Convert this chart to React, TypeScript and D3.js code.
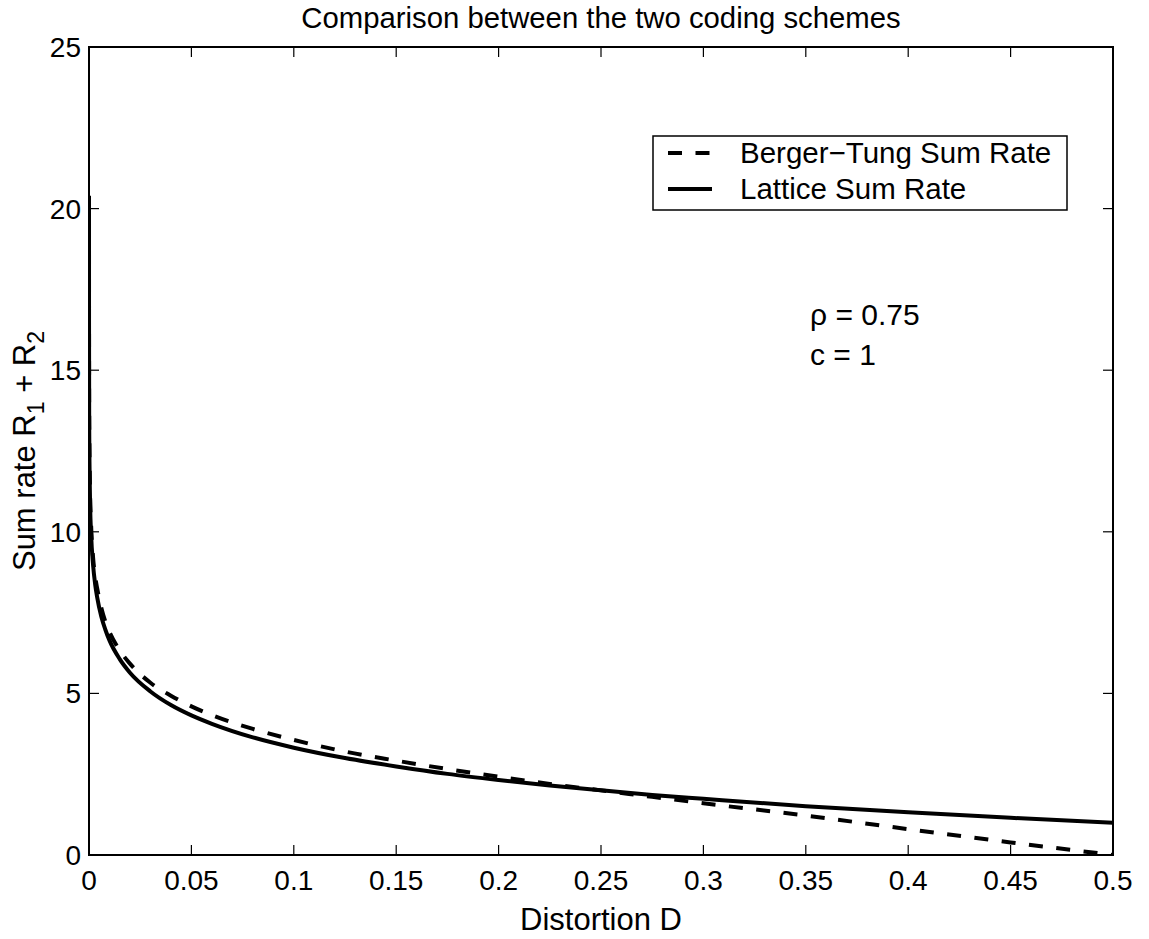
import React from 'react';
import * as d3 from 'd3';

const distortion = [
  0.0000008, 0.00001, 0.0001, 0.0005, 0.001, 0.002, 0.003, 0.004, 0.006, 0.008,
  0.01, 0.015, 0.02, 0.03, 0.04, 0.05, 0.06, 0.08, 0.1, 0.125,
  0.15, 0.175, 0.2, 0.225, 0.25, 0.275, 0.3, 0.35, 0.4, 0.45, 0.5,
];

// Berger–Tung sum rate (dashed)
const bergerTung = [
  20.4, 16.9, 13.6, 11.3, 10.25, 9.2, 8.62, 8.25, 7.65, 7.22,
  6.9, 6.33, 5.92, 5.33, 4.93, 4.6, 4.33, 3.9, 3.56, 3.2,
  2.92, 2.66, 2.42, 2.2, 2.0, 1.8, 1.6, 1.22, 0.8, 0.39, 0.0,
];

// Lattice sum rate (solid)
const lattice = [
  20.3, 16.6, 13.3, 11.0, 9.97, 8.97, 8.38, 7.97, 7.38, 6.97,
  6.64, 6.06, 5.64, 5.06, 4.64, 4.32, 4.06, 3.64, 3.32, 3.0,
  2.74, 2.51, 2.32, 2.15, 2.0, 1.86, 1.74, 1.51, 1.32, 1.15, 1.0,
];

const xTicks = [0, 0.05, 0.1, 0.15, 0.2, 0.25, 0.3, 0.35, 0.4, 0.45, 0.5];
const xTickLabels = ['0', '0.05', '0.1', '0.15', '0.2', '0.25', '0.3', '0.35', '0.4', '0.45', '0.5'];
const yTicks = [0, 5, 10, 15, 20, 25];
const yTickLabels = ['0', '5', '10', '15', '20', '25'];
const seriesNames = ['Berger\u2212Tung Sum Rate', 'Lattice Sum Rate'];
const titleText = 'Comparison between the two coding schemes';
const xLabelText = 'Distortion D';
const annotationLines = ['\u03c1 = 0.75', 'c = 1'];

const W = 1149;
const H = 939;
const FRAME = { left: 89, right: 1113, top: 47, bottom: 855 };
const FONT = '"Liberation Sans", Arial, Helvetica, sans-serif';

export default function App() {
  const x = d3.scaleLinear().domain([0, 0.5]).range([FRAME.left, FRAME.right]);
  const y = d3.scaleLinear().domain([0, 25]).range([FRAME.bottom, FRAME.top]);

  const makeLine = (vals: number[]) =>
    d3
      .line<number>()
      .x((_, i) => x(distortion[i]))
      .y((d) => y(d))
      .curve(d3.curveMonotoneX)(vals) || '';

  const tickLen = 10;
  const midX = (FRAME.left + FRAME.right) / 2;
  const midY = (FRAME.top + FRAME.bottom) / 2;

  const legend = { x: 653, y: 136, w: 414, h: 74 };
  const legendRows = [153, 189];

  return (
    <svg
      width={W}
      height={H}
      viewBox={`0 0 ${W} ${H}`}
      style={{ position: 'absolute', left: 0, top: 0, display: 'block', background: '#fff' }}
      fontFamily={FONT}
    >
      <rect x={0} y={0} width={W} height={H} fill="#fff" />
      <defs>
        <clipPath id="plotClip">
          <rect x={FRAME.left} y={FRAME.top - 2} width={FRAME.right - FRAME.left} height={FRAME.bottom - FRAME.top + 2} />
        </clipPath>
      </defs>

      {/* title */}
      <text x={midX} y={28} fontSize={29.3} textAnchor="middle" fill="#000">
        {titleText}
      </text>

      {/* curves */}
      <g clipPath="url(#plotClip)">
        <path d={makeLine(bergerTung)} fill="none" stroke="#000" strokeWidth={4} strokeDasharray="14 13.5" />
        <path d={makeLine(lattice)} fill="none" stroke="#000" strokeWidth={4} />
      </g>

      {/* ticks */}
      <g stroke="#000" strokeWidth={1.2}>
        {xTicks.map((t) => (
          <g key={'xt' + t}>
            <line x1={x(t)} x2={x(t)} y1={FRAME.bottom} y2={FRAME.bottom - tickLen} />
            <line x1={x(t)} x2={x(t)} y1={FRAME.top} y2={FRAME.top + tickLen} />
          </g>
        ))}
        {yTicks.map((t) => (
          <g key={'yt' + t}>
            <line x1={FRAME.left} x2={FRAME.left + tickLen} y1={y(t)} y2={y(t)} />
            <line x1={FRAME.right} x2={FRAME.right - tickLen} y1={y(t)} y2={y(t)} />
          </g>
        ))}
      </g>

      {/* frame */}
      <rect
        x={FRAME.left}
        y={FRAME.top}
        width={FRAME.right - FRAME.left}
        height={FRAME.bottom - FRAME.top}
        fill="none"
        stroke="#000"
        strokeWidth={2}
      />

      {/* tick labels */}
      {xTicks.map((t, i) => (
        <text key={'xl' + t} x={x(t)} y={890} fontSize={28} textAnchor="middle" fill="#000">
          {xTickLabels[i]}
        </text>
      ))}
      {yTicks.map((t, i) => (
        <text key={'yl' + t} x={FRAME.left - 8} y={y(t) + 10} fontSize={28} textAnchor="end" fill="#000">
          {yTickLabels[i]}
        </text>
      ))}

      {/* axis labels */}
      <text x={midX} y={930} fontSize={31} textAnchor="middle" fill="#000">
        {xLabelText}
      </text>
      <text transform={`translate(35,${midY}) rotate(-90)`} fontSize={31} textAnchor="middle" fill="#000">
        Sum rate R
        <tspan dy={9} fontSize={23}>1</tspan>
        <tspan dy={-9}> + R</tspan>
        <tspan dy={9} fontSize={23}>2</tspan>
      </text>

      {/* legend */}
      <rect x={legend.x} y={legend.y} width={legend.w} height={legend.h} fill="#fff" stroke="#000" strokeWidth={1.5} />
      <line x1={668} x2={712} y1={legendRows[0]} y2={legendRows[0]} stroke="#000" strokeWidth={4} strokeDasharray="14 13.5" />
      <line x1={668} x2={712} y1={legendRows[1]} y2={legendRows[1]} stroke="#000" strokeWidth={4} />
      {seriesNames.map((s, i) => (
        <text key={s} x={740} y={legendRows[i] + 10} fontSize={29.5} fill="#000">
          {s}
        </text>
      ))}

      {/* annotation */}
      {annotationLines.map((s, i) => (
        <text key={s} x={810} y={325 + i * 40} fontSize={30} fill="#000">
          {s}
        </text>
      ))}
    </svg>
  );
}
